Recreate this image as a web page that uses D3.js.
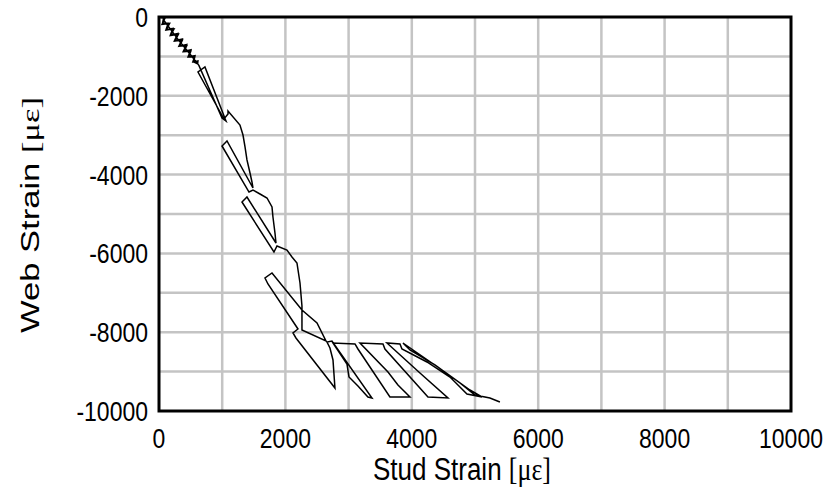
<!DOCTYPE html>
<html>
<head>
<meta charset="utf-8">
<script src="https://cdn.jsdelivr.net/npm/d3@7"></script>
<style>
  body { margin: 0; background: #fff; }
  text { font-family: Arial, "Liberation Sans", sans-serif; fill: #000; }
</style>
</head>
<body>
<svg width="828" height="492"></svg>
<script>
// stud strain (x) and web strain (y) readings, in micro-strain
var studStrain = [
  0, 93, 48, 168, 112, 238, 181, 307, 250, 370, 326, 440, 395, 503, 471, 566, 547, 611,
  616, 536, 569, 460, 505, 384, 436, 315, 367, 245, 297, 182, 221, 113, 146, 56, 68,
  313, 518, 631,
  997, 1060, 727, 617, 1028, 1092, 1092, 1281, 1329, 1361, 1392, 1440, 1471, 1487,
  1076, 997, 1424, 1487, 1598, 1709, 1788, 1803, 1835, 1851,
  1392, 1313, 1819, 1867, 2025, 2104, 2183, 2231,
  2262, 2262, 2642, 2500, 2262, 1788, 1677, 1724, 2199,
  2120, 2167, 2784, 2753, 2705, 2658, 2737, 3370, 3306, 3148, 3006, 2974, 2753,
  3101, 3148, 3654, 3971, 3781, 3623, 3180,
  3544, 3575, 4256, 4572, 4129, 3607,
  3813, 3844, 4240, 4604, 4873, 5110, 4920, 4525, 3860, 3971, 4366, 4762, 4999, 5236, 5394
];
var webStrain = [
  0, -31, -186, -162, -333, -301, -471, -439, -610, -586, -741, -725, -880, -871, -1010, -1017, -1140, -1188,
  -1116, -1139, -982, -1008, -835, -877, -697, -739, -558, -600, -420, -454, -289, -315, -158, -160, -63,
  -594, -997, -1227,
  -2563, -2640, -1269, -1396, -2589, -2462, -2386, -2741, -2995, -3299, -3629, -3959, -4188, -4340,
  -3147, -3274, -4442, -4391, -4492, -4594, -4822, -5076, -5482, -5736,
  -4568, -4695, -5964, -5812, -5914, -6091, -6243, -6751,
  -7335, -7944, -8223, -7766, -7436, -6497, -6624, -6776, -7918,
  -8020, -8147, -9416, -8705, -8401, -8249, -8223, -9670, -9644, -9365, -9137, -8807, -8274,
  -8299, -8426, -9644, -9644, -9340, -9010, -8274,
  -8299, -8426, -9644, -9670, -9035, -8274,
  -8299, -8426, -8756, -9137, -9568, -9644, -9467, -9010, -8274, -8451, -8832, -9289, -9594, -9670, -9772
];

var xTicks = [0, 2000, 4000, 6000, 8000, 10000];
var yTicks = [0, -2000, -4000, -6000, -8000, -10000];
var xGrid = [1000, 2000, 3000, 4000, 5000, 6000, 7000, 8000, 9000];
var yGrid = [-1000, -2000, -3000, -4000, -5000, -6000, -7000, -8000, -9000];

var svg = d3.select("svg");
var plotL = 159, plotT = 17, plotW = 632, plotH = 394;
var stretch = 1.2;   // the picture's text is taller than it is wide

var x = d3.scaleLinear().domain([0, 10000]).range([plotL, plotL + plotW]);
var y = d3.scaleLinear().domain([0, -10000]).range([plotT, plotT + plotH]);

// grid
svg.append("g").selectAll("line").data(xGrid).enter().append("line")
  .attr("x1", d => x(d)).attr("x2", d => x(d))
  .attr("y1", plotT).attr("y2", plotT + plotH)
  .style("stroke", "#c4c4c4").style("stroke-width", 2.5);
svg.append("g").selectAll("line").data(yGrid).enter().append("line")
  .attr("y1", d => y(d)).attr("y2", d => y(d))
  .attr("x1", plotL).attr("x2", plotL + plotW)
  .style("stroke", "#c4c4c4").style("stroke-width", 2.5);

// data line
var pts = studStrain.map((d, i) => [d, webStrain[i]]);
svg.append("path")
  .datum(pts)
  .attr("d", d3.line().x(d => x(d[0])).y(d => y(d[1])))
  .style("fill", "none").style("stroke", "#000").style("stroke-width", 1.5)
  .style("stroke-linejoin", "miter");

// frame
svg.append("rect")
  .attr("x", plotL).attr("y", plotT).attr("width", plotW).attr("height", plotH)
  .style("fill", "none").style("stroke", "#000").style("stroke-width", 3);

// tick labels
svg.append("g").selectAll("text").data(xTicks).enter().append("text")
  .attr("transform", d => "translate(" + x(d) + ",438) scale(1," + stretch + ")")
  .attr("dy", "0.36em")
  .attr("text-anchor", "middle")
  .style("font-size", "23px")
  .text(d => String(d));
svg.append("g").selectAll("text").data(yTicks).enter().append("text")
  .attr("transform", d => "translate(148," + y(d) + ") scale(1," + stretch + ")")
  .attr("dy", "0.36em")
  .attr("text-anchor", "end")
  .style("font-size", "23px")
  .text(d => String(d));

// titles
var xt = svg.append("text")
  .attr("transform", "translate(462,480) scale(1," + stretch + ")")
  .attr("text-anchor", "middle").style("font-size", "26px");
xt.append("tspan").text("Stud Strain ");
xt.append("tspan").style("font-family", "'Liberation Serif', 'Times New Roman', serif").text("[\u03bc\u03b5]");

var yt = svg.append("text")
  .attr("transform", "translate(39,215) scale(1,1.33) rotate(-90)")
  .attr("text-anchor", "middle").style("font-size", "26px");
yt.append("tspan").text("Web Strain ");
yt.append("tspan").style("font-family", "'Liberation Serif', 'Times New Roman', serif").text("[\u03bc\u03b5]");
</script>
</body>
</html>
